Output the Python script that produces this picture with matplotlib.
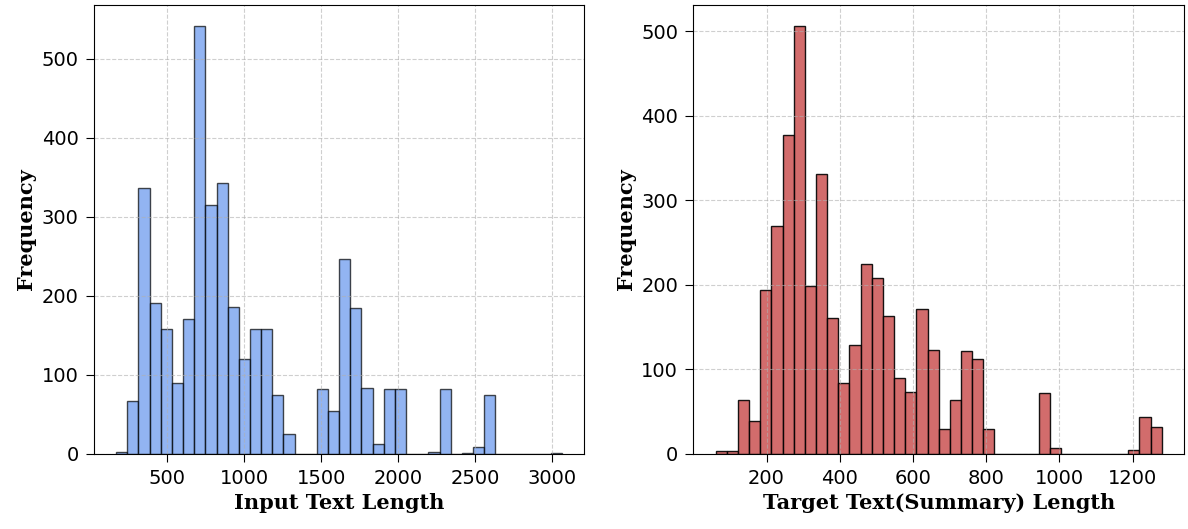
import numpy as np
import matplotlib
matplotlib.use('Agg')
import matplotlib.pyplot as plt

# 输入文本长度直方图 (40 bins)
input_lo, input_hi = 171, 3063
input_counts = [2, 66, 336, 191, 158, 89, 170, 541, 315, 342,
                186, 120, 158, 158, 74, 25, 0, 0, 82, 54,
                247, 184, 83, 12, 82, 82, 0, 0, 2, 82,
                0, 1, 8, 74, 0, 0, 0, 0, 0, 1]

# 摘要长度直方图 (40 bins)
target_lo, target_hi = 61, 1279
target_counts = [3, 3, 63, 38, 194, 270, 377, 506, 199, 331,
                 161, 83, 128, 225, 208, 163, 89, 73, 171, 123,
                 29, 63, 121, 112, 29, 0, 0, 0, 0, 72,
                 7, 0, 0, 0, 0, 0, 0, 4, 43, 31]


def draw_hist(ax, lo, hi, counts, color, alpha, xlabel):
    edges = np.linspace(lo, hi, len(counts) + 1)
    ax.hist(edges[:-1], bins=edges, weights=counts, color=color,
            alpha=alpha, edgecolor='black')
    ax.set_xlabel(xlabel, fontsize=15, fontweight='bold', family='DejaVu Serif')
    ax.set_ylabel('Frequency', fontsize=15, fontweight='bold', family='DejaVu Serif')
    ax.tick_params(labelsize=14, length=6, pad=5)
    ax.grid(True, linestyle='--', alpha=0.6)


fig, (ax1, ax2) = plt.subplots(1, 2, figsize=(11.88, 5.29), dpi=100)
plt.subplots_adjust(left=0.079, right=0.9966, top=0.9905, bottom=0.1427, wspace=0.222)

draw_hist(ax1, input_lo, input_hi, input_counts, 'cornflowerblue', 0.7, 'Input Text Length')
draw_hist(ax2, target_lo, target_hi, target_counts, 'indianred', 0.9, 'Target Text(Summary) Length')

plt.savefig('out.png')
